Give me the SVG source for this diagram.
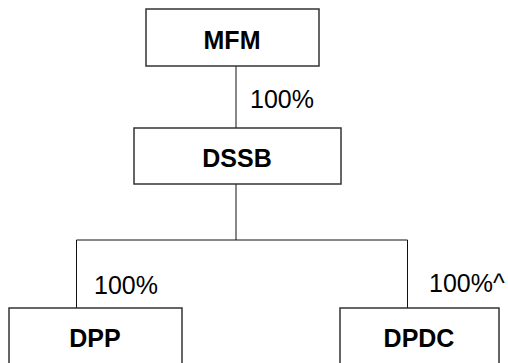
<svg xmlns="http://www.w3.org/2000/svg" width="508" height="363" viewBox="0 0 508 363">
<style>
.box{fill:#fff;stroke:#333;stroke-width:1.5}
.lbl{font-family:"Liberation Sans",Arial,sans-serif;font-weight:bold;font-size:25px;text-anchor:middle;fill:#000}
.pct{font-family:"Liberation Sans",Arial,sans-serif;font-size:25px;fill:#000}
.conn line{stroke:#111;stroke-width:1}
</style>
<rect width="508" height="363" fill="#fff"/>
<g class="conn" id="connectors">
<line x1="236" y1="66" x2="236" y2="128"/>
<line x1="236" y1="184" x2="236" y2="240"/>
<line x1="76.5" y1="240" x2="407.5" y2="240"/>
<line x1="76.5" y1="240" x2="76.5" y2="308"/>
<line x1="407.5" y1="240" x2="407.5" y2="308"/>
<text class="pct" x="250" y="108">100%</text>
<text class="pct" x="94" y="294">100%</text>
<text class="pct" x="429" y="292">100%^</text>
</g>
<g id="MFM"><rect class="box" x="146" y="9" width="173" height="57"/><text class="lbl" x="232" y="49">MFM</text></g>
<g id="DSSB"><rect class="box" x="134" y="128" width="207" height="56"/><text class="lbl" x="237" y="167">DSSB</text></g>
<g id="DPP"><rect class="box" x="9" y="308" width="173" height="70"/><text class="lbl" x="95" y="347">DPP</text></g>
<g id="DPDC"><rect class="box" x="340" y="308" width="159" height="70"/><text class="lbl" x="419" y="347">DPDC</text></g>
</svg>
